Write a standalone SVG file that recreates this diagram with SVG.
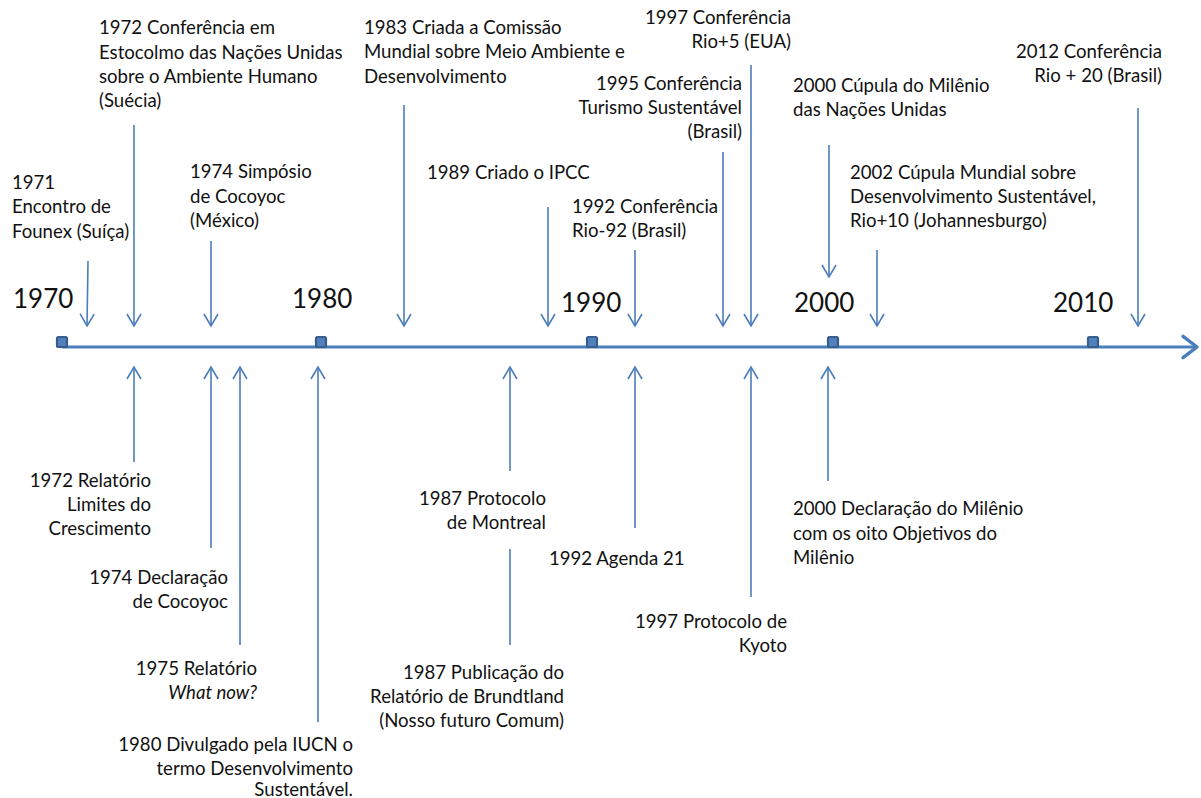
<svg xmlns="http://www.w3.org/2000/svg" width="1201" height="798" viewBox="0 0 1201 798">
<defs>
<marker id="ah" markerUnits="userSpaceOnUse" markerWidth="20" markerHeight="20" viewBox="-14 -10 16 20" refX="0" refY="0" orient="auto" overflow="visible">
<path d="M-12,-7 L0,0 L-12,7" fill="none" stroke="#4a7ebb" stroke-width="1.6"/>
</marker>
<marker id="axh" markerUnits="userSpaceOnUse" markerWidth="30" markerHeight="30" viewBox="-16 -14 20 28" refX="0" refY="0" orient="auto" overflow="visible">
<path d="M-13,-10 L0,0 L-13,10" fill="none" stroke="#4a7ebb" stroke-width="3.2" stroke-linecap="round" stroke-linejoin="round"/>
</marker>
<style>
text{font-family:Lato,"Liberation Sans",sans-serif;font-size:18.6px;fill:#111}
.yr{font-size:26px}
.r{text-anchor:end}
.c{stroke:#4a7ebb;stroke-width:1.6;fill:none}
.ca{marker-end:url(#ah)}
.tick{fill:#4f81bd;stroke:#385d8a;stroke-width:2.2}
</style>
</defs>
<g id="axis">
<line x1="62" y1="347" x2="1197" y2="347" stroke="#4a7ebb" stroke-width="3.2" marker-end="url(#axh)"/>
<rect class="tick" x="57" y="337" width="10" height="10" rx="1.5"/>
<rect class="tick" x="316" y="337" width="10" height="10" rx="1.5"/>
<rect class="tick" x="587" y="337" width="10" height="10" rx="1.5"/>
<rect class="tick" x="828" y="337" width="10" height="10" rx="1.5"/>
<rect class="tick" x="1088" y="337" width="10" height="10" rx="1.5"/>
<text class="yr" x="13" y="308">1970</text>
<text class="yr" x="292" y="308">1980</text>
<text class="yr" x="561" y="312">1990</text>
<text class="yr" x="794" y="312">2000</text>
<text class="yr" x="1053" y="312">2010</text>
</g>
<g id="connectors">
<line class="c ca" x1="88" y1="261" x2="87" y2="326"/>
<line class="c ca" x1="134" y1="125" x2="134" y2="326"/>
<line class="c ca" x1="211" y1="241" x2="211" y2="326"/>
<line class="c ca" x1="404" y1="105" x2="404" y2="326"/>
<line class="c ca" x1="548" y1="207" x2="548" y2="326"/>
<line class="c ca" x1="635" y1="250" x2="635" y2="326"/>
<line class="c ca" x1="723" y1="152" x2="723" y2="326"/>
<line class="c ca" x1="751" y1="65" x2="751" y2="326"/>
<line class="c ca" x1="829" y1="145" x2="829" y2="277"/>
<line class="c ca" x1="877" y1="250" x2="877" y2="326"/>
<line class="c ca" x1="1138" y1="108" x2="1138" y2="326"/>
<line class="c ca" x1="134" y1="462" x2="134" y2="367"/>
<line class="c ca" x1="211" y1="548" x2="211" y2="367"/>
<line class="c ca" x1="240" y1="645" x2="240" y2="367"/>
<line class="c ca" x1="318" y1="722" x2="318" y2="367"/>
<line class="c ca" x1="510" y1="471" x2="510" y2="367"/>
<line class="c" x1="510" y1="549" x2="510" y2="645"/>
<line class="c ca" x1="635" y1="528" x2="635" y2="367"/>
<line class="c ca" x1="751" y1="597" x2="751" y2="367"/>
<line class="c ca" x1="828" y1="481" x2="828" y2="367"/>
</g>
<g id="e1971"><text x="12" y="189">1971</text><text x="12" y="213">Encontro de</text><text x="12" y="238">Founex (Suíça)</text></g>
<g id="e1972a"><text x="99" y="34">1972 Conferência em</text><text x="99" y="59">Estocolmo das Nações Unidas</text><text x="99" y="83">sobre o Ambiente Humano</text><text x="99" y="107">(Suécia)</text></g>
<g id="e1974a"><text x="190" y="178">1974 Simpósio</text><text x="190" y="203">de  Cocoyoc</text><text x="190" y="227">(México)</text></g>
<g id="e1983"><text x="364" y="34">1983 Criada a Comissão</text><text x="364" y="58">Mundial sobre Meio Ambiente e</text><text x="364" y="83">Desenvolvimento</text></g>
<g id="e1989"><text x="427" y="179">1989 Criado o IPCC</text></g>
<g id="e1992a"><text x="572" y="213">1992 Conferência</text><text x="572" y="237">Rio-92 (Brasil)</text></g>
<g id="e1995"><text class="r" x="742" y="90">1995 Conferência</text><text class="r" x="742" y="114">Turismo Sustentável</text><text class="r" x="742" y="138">(Brasil)</text></g>
<g id="e1997a"><text class="r" x="791" y="24">1997 Conferência</text><text class="r" x="791" y="48">Rio+5 (EUA)</text></g>
<g id="e2000a"><text x="793" y="92">2000 Cúpula do Milênio</text><text x="793" y="116">das Nações Unidas</text></g>
<g id="e2002"><text x="850" y="179">2002 Cúpula Mundial sobre</text><text x="850" y="203">Desenvolvimento Sustentável,</text><text x="850" y="227">Rio+10 (Johannesburgo)</text></g>
<g id="e2012"><text class="r" x="1162" y="58">2012 Conferência</text><text class="r" x="1162" y="82">Rio + 20 (Brasil)</text></g>
<g id="e1972b"><text class="r" x="151" y="487">1972 Relatório</text><text class="r" x="151" y="511">Limites do</text><text class="r" x="151" y="535">Crescimento</text></g>
<g id="e1974b"><text class="r" x="228" y="584">1974 Declaração</text><text class="r" x="228" y="608">de Cocoyoc</text></g>
<g id="e1975"><text class="r" x="257" y="675">1975 Relatório</text><text class="r" x="257" y="699" font-style="italic">What now?</text></g>
<g id="e1980"><text class="r" x="353" y="751">1980 Divulgado pela IUCN o</text><text class="r" x="353" y="775">termo Desenvolvimento</text><text class="r" x="353" y="796">Sustentável.</text></g>
<g id="e1987a"><text class="r" x="546" y="505">1987 Protocolo</text><text class="r" x="546" y="529">de Montreal</text></g>
<g id="e1987b"><text class="r" x="564" y="679">1987 Publicação do</text><text class="r" x="564" y="703">Relatório de Brundtland</text><text class="r" x="564" y="727">(Nosso futuro Comum)</text></g>
<g id="e1992b"><text x="549" y="565">1992 Agenda 21</text></g>
<g id="e1997b"><text class="r" x="787" y="628">1997 Protocolo de</text><text class="r" x="787" y="652">Kyoto</text></g>
<g id="e2000b"><text x="793" y="515">2000 Declaração do Milênio</text><text x="793" y="540">com os oito Objetivos do</text><text x="793" y="564">Milênio</text></g>
</svg>
